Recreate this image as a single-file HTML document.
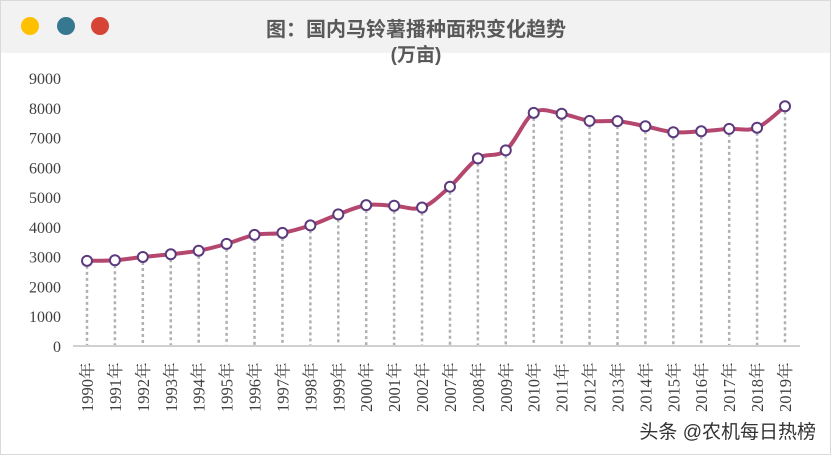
<!DOCTYPE html>
<html><head><meta charset="utf-8"><style>
body{margin:0;width:831px;height:455px;overflow:hidden;background:#fff;font-family:"Liberation Serif","Noto Serif CJK SC",serif}
</style></head><body>
<svg width="831" height="455" xmlns="http://www.w3.org/2000/svg">
<rect x="0.5" y="0.5" width="830" height="454" fill="#fff" stroke="#d9d9d9"/>
<rect x="1" y="1" width="829" height="52" fill="#f2f2f2"/>
<circle cx="30" cy="26" r="9" fill="#ffc000"/>
<circle cx="66" cy="26" r="9" fill="#367890"/>
<circle cx="100" cy="26" r="9" fill="#d64436"/>
<text x="416" y="36" text-anchor="middle" font-family="'Liberation Sans','Noto Sans CJK SC',sans-serif" font-weight="bold" font-size="20" fill="#595959">图：国内马铃薯播种面积变化趋势</text>
<text x="416" y="61" text-anchor="middle" font-family="'Liberation Sans','Noto Sans CJK SC',sans-serif" font-weight="bold" font-size="19" fill="#595959">(万亩)</text>
<g id="yax" font-size="16" fill="#404040" text-anchor="end"></g>
<line x1="73" y1="346" x2="800" y2="346" stroke="#d0d0d0" stroke-width="2"/>
<g id="drops" stroke="#b0b0b0" stroke-width="2.5" stroke-dasharray="3,3"></g>
<path id="ln" fill="none" stroke="#b5476f" stroke-width="4"/>
<g id="dots"></g>
<g id="xl" font-size="16.5" fill="#404040"></g>
<text x="816" y="438" text-anchor="end" font-family="'Liberation Sans','Noto Sans CJK SC',sans-serif" font-size="19" fill="#333">头条 @农机每日热榜</text>
</svg>
<script>
var ns="http://www.w3.org/2000/svg";
function el(t,a,p,txt){var e=document.createElementNS(ns,t);for(var k in a)e.setAttribute(k,a[k]);if(txt)e.textContent=txt;document.getElementById(p).appendChild(e);return e;}
for(var i=0;i<=9;i++){var y=346-i*268/9;el('text',{x:61,y:y+6},'yax',String(i*1000));}
var yrs=[1990,1991,1992,1993,1994,1995,1996,1997,1998,1999,2000,2001,2002,2007,2008,2009,2010,2011,2012,2013,2014,2015,2016,2017,2018,2019];
var v=[2860,2880,2990,3080,3200,3430,3730,3800,4050,4420,4730,4710,4650,5350,6300,6570,7830,7800,7560,7550,7380,7180,7210,7290,7330,8050];
var P=v.map(function(a,i){return [87+i*27.92,346-a*268/9000];});
var d='M'+P[0][0]+','+P[0][1];
for(var i=0;i<P.length-1;i++){var p0=P[Math.max(0,i-1)],p1=P[i],p2=P[i+1],p3=P[Math.min(P.length-1,i+2)];
d+=' C'+(p1[0]+(p2[0]-p0[0])/6)+','+(p1[1]+(p2[1]-p0[1])/6)+' '+(p2[0]-(p3[0]-p1[0])/6)+','+(p2[1]-(p3[1]-p1[1])/6)+' '+p2[0]+','+p2[1];}
document.getElementById('ln').setAttribute('d',d);
P.forEach(function(p,i){
el('line',{x1:p[0],y1:p[1]+5,x2:p[0],y2:345},'drops');
el('circle',{cx:p[0],cy:p[1],r:5,fill:'#fff',stroke:'#5b3a7e','stroke-width':2},'dots');
el('text',{x:0,y:0,transform:'translate('+(p[0]+6)+',412) rotate(-90)'},'xl',yrs[i]+'年');
});
</script>
</body></html>
